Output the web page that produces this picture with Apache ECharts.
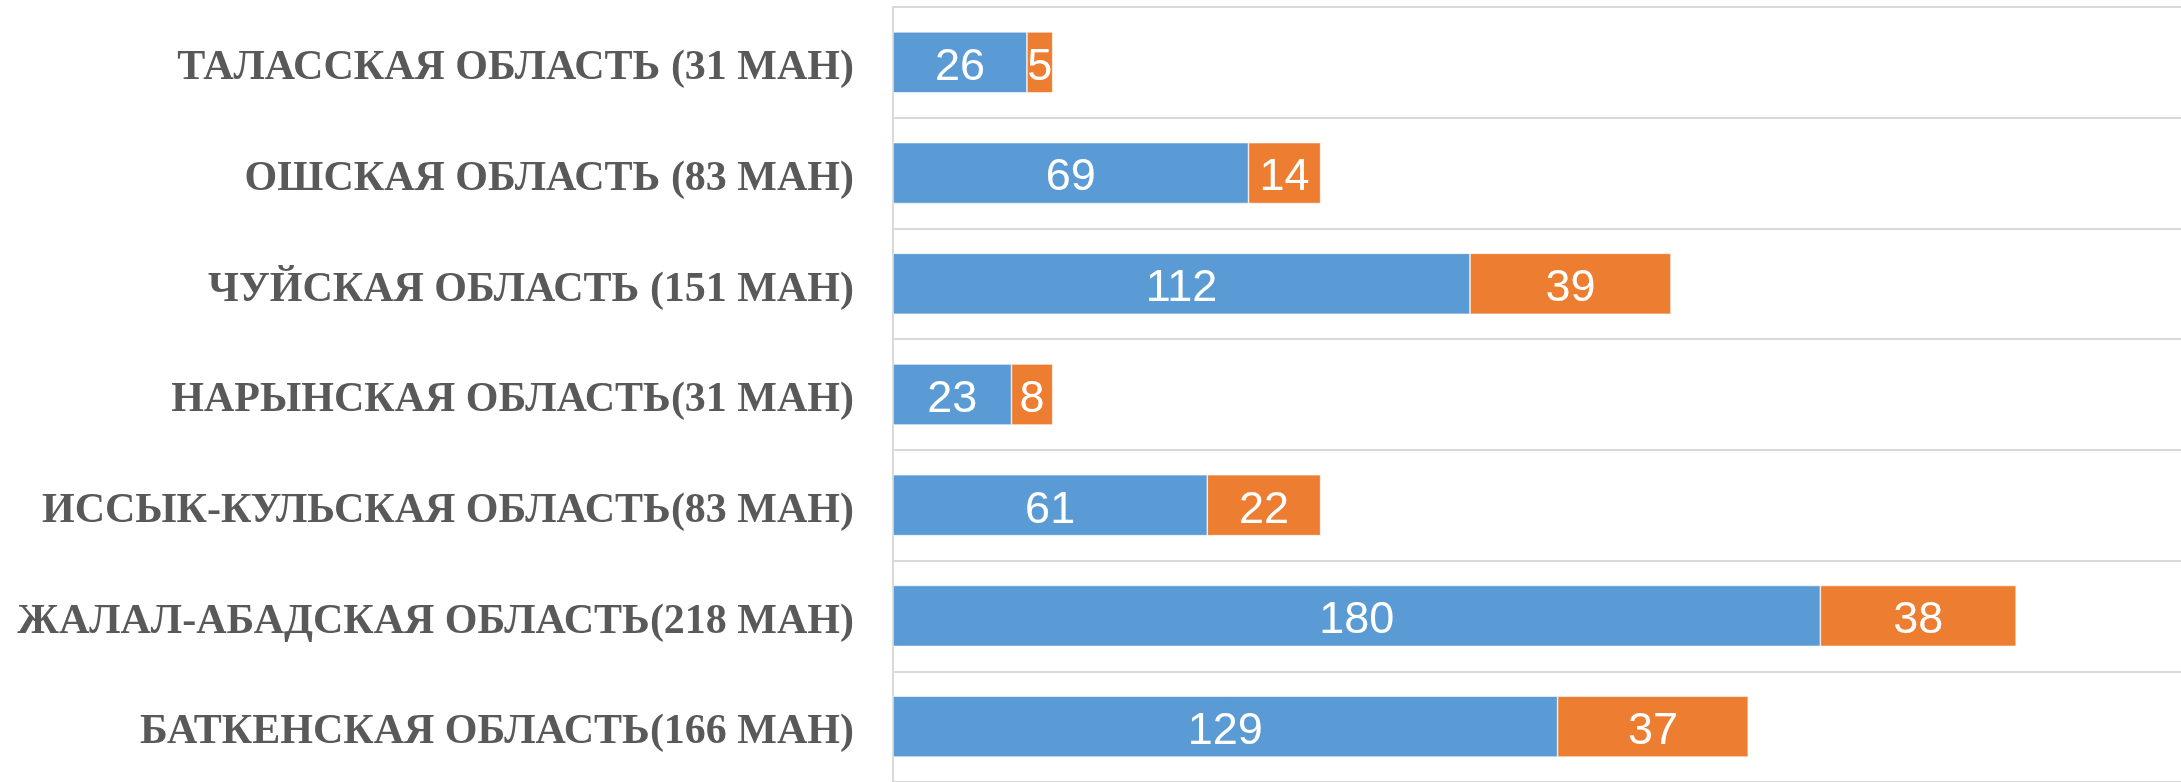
<!DOCTYPE html>
<html>
<head>
<meta charset="utf-8">
<script src="https://cdn.jsdelivr.net/npm/echarts@6/dist/echarts.min.js"></script>
<style>
html,body{margin:0;padding:0;background:#fff;}
#chart{width:2181px;height:782px;}
</style>
</head>
<body>
<div id="chart"></div>
<script>
// Categories listed bottom to top (ECharts category y-axis starts at bottom)
const categories = [
  'БАТКЕНСКАЯ ОБЛАСТЬ(166 МАН)',
  'ЖАЛАЛ-АБАДСКАЯ ОБЛАСТЬ(218 МАН)',
  'ИССЫК-КУЛЬСКАЯ ОБЛАСТЬ(83 МАН)',
  'НАРЫНСКАЯ ОБЛАСТЬ(31 МАН)',
  'ЧУЙСКАЯ ОБЛАСТЬ (151 МАН)',
  'ОШСКАЯ ОБЛАСТЬ (83 МАН)',
  'ТАЛАССКАЯ ОБЛАСТЬ (31 МАН)'
];
const seriesA = [129, 180, 61, 23, 112, 69, 26];
const seriesB = [37, 38, 22, 8, 39, 14, 5];

const chart = echarts.init(document.getElementById('chart'), null, {renderer: 'canvas'});
const labelStyle = {
  show: true,
  position: 'inside',
  color: '#ffffff',
  fontFamily: 'Liberation Sans, Arial, sans-serif',
  fontSize: 45,
  offset: [0, 5]
};
chart.setOption({
  animation: false,
  backgroundColor: '#ffffff',
  grid: {left: 893, right: 0, top: 7, height: 780, containLabel: false},
  xAxis: {
    type: 'value', min: 0, max: 250,
    show: false,
    splitLine: {show: false}
  },
  yAxis: {
    type: 'category',
    data: categories,
    axisTick: {show: false},
    axisLine: {show: true, lineStyle: {color: '#D9D9D9', width: 2}},
    splitLine: {show: true, lineStyle: {color: '#D9D9D9', width: 2}},
    axisLabel: {
      color: '#595959',
      fontFamily: 'Liberation Serif, Times New Roman, serif',
      fontWeight: 'bold',
      fontSize: 42,
      margin: 39,
      verticalAlign: 'top',
      lineHeight: 12
    }
  },
  series: [
    {
      type: 'bar', stack: 'total', data: seriesA,
      barCategoryGap: '45%',
      itemStyle: {color: '#5B9BD5', borderColor: '#ffffff', borderWidth: 0.6},
      label: labelStyle
    },
    {
      type: 'bar', stack: 'total', data: seriesB,
      barCategoryGap: '45%',
      itemStyle: {color: '#ED7D31', borderColor: '#ffffff', borderWidth: 0.6},
      label: labelStyle
    }
  ]
});
</script>
</body>
</html>
